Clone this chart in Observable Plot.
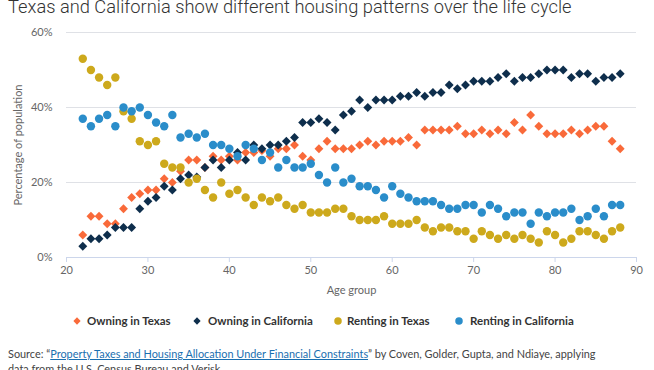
<!DOCTYPE html>
<html>
<head>
<meta charset="utf-8">
<script src="https://cdn.jsdelivr.net/npm/d3@7"></script>
<script src="https://cdn.jsdelivr.net/npm/@observablehq/plot@0.6"></script>
<style>
  html, body { margin: 0; padding: 0; background: #fff; }
  #wrap { position: relative; width: 654px; height: 370px; overflow: hidden; font-family: Lato, sans-serif; }
  #title { position: absolute; left: 8px; top: -3px; font-family: Roboto, sans-serif; font-weight: 300; font-size: 18.3px; line-height: 19px; color: #333; white-space: nowrap; }
  #chart { position: absolute; left: 0; top: 0; }
  .leg { position: absolute; top: 313px; height: 16px; line-height: 16px; font-size: 11.5px; font-weight: bold; color: #333; white-space: nowrap; }
  .sym { position: absolute; top: 313px; }
  #caption { position: absolute; left: 8px; top: 346px; font-size: 10.9px; line-height: 15px; color: #444; white-space: nowrap; }
  #caption a { color: #1a6fb0; text-decoration: underline; }
</style>
</head>
<body>
<div id="wrap">
  <div id="chart"></div>
  <div id="title">Texas and California show different housing patterns over the life cycle</div>
  <div id="legend"></div>
  <div id="caption">Source: “<a href="#">Property Taxes and Housing Allocation Under Financial Constraints</a>” by Coven, Golder, Gupta, and Ndiaye, applying<br>data from the U.S. Census Bureau and Verisk.</div>
</div>
<script>
const ages = [22,23,24,25,26,27,28,29,30,31,32,33,34,35,36,37,38,39,40,41,42,43,44,45,46,47,48,49,50,51,52,53,54,55,56,57,58,59,60,61,62,63,64,65,66,67,68,69,70,71,72,73,74,75,76,77,78,79,80,81,82,83,84,85,86,87,88];

const owningTexas = [6,11,11,9,9,13,16,17,18,18,21,20,23,26,26,24,27,26,27,26,28,28,28.5,27,29,29,30,27,26,29,31,29,29,29,30,31,30,31,31,31,32,30,34,34,34,34,35,33,33,34,33,34,33,36,34,38,35,33,33,33,34,33,34,35,35,31,29];

const owningCalifornia = [3,5,5,6,8,8,8,13,15,16,19,18,21,22,21.5,24,26,24,26,28,26,30,29,30,30,31,32,36,36,37,36,34,38,39,42,40,42,42,42,43,43,44,43,44,44,46,45,46,47,47,47,48,49,47,48,48,49,50,50,50,48,49,49,47,48,48,49];

const rentingTexas = [53,50,48,46,48,39,37,31,30,31,25,24,24,20,21,18,16,20,17,18,16,14,16,15,16,14,13,14,12,12,12,13,13,11,10,10,10,11,9,9,9,10,8,7,8,8,7,7,5,7,6,5,6,5,6,5,4,7,6,4,5,7,7,6,5,7,8];

const rentingCalifornia = [37,35,37,38,35,40,39,40,38,36,35,38,32,33,32,33,30,30,29,27,30,29,26,28,24,26,24,24,25,22,20,24,20,21,19,19,18,16,19,17,16,15,15,15,14,13,13,14,14,12,14,13,11,12,12,9,12,11,12,12,13,10,11,13,11,14,14];

const seriesNames = ["Owning in Texas", "Owning in California", "Renting in Texas", "Renting in California"];
const seriesColors = ["#f96a3a", "#0e2e4c", "#cda91c", "#2a8dca"];
const seriesSymbols = ["diamond2", "diamond2", "circle", "circle"];
const seriesValues = [owningTexas, owningCalifornia, rentingTexas, rentingCalifornia];

const xTicks = [20,30,40,50,60,70,80,90];
const yTicks = [0,20,40,60];

const data = seriesNames.map((name, s) => ages.map((age, i) => ({age, value: seriesValues[s][i], series: name})));

const chart = Plot.plot({
  width: 654,
  height: 300,
  marginLeft: 66,
  marginRight: 18,
  marginTop: 32,
  marginBottom: 43,
  style: { fontFamily: "Lato, sans-serif", fontSize: "11px", background: "transparent", overflow: "visible" },
  x: { domain: [20, 90] },
  y: { domain: [0, 60] },
  marks: [
    Plot.gridY(yTicks.filter(d => d > 0), { stroke: "#dfe1e6", strokeOpacity: 1 }),
    Plot.ruleY([0], { stroke: "#ccd6eb" }),
    Plot.axisX({ ticks: xTicks, tickSize: 5, tickPadding: 4, stroke: "#ccd6eb", fill: "#666", label: "Age group", labelAnchor: "center", labelArrow: "none", labelOffset: 36 }),
    Plot.axisY({ ticks: yTicks, tickSize: 0, tickPadding: 14, fill: "#666", tickFormat: d => d + "%", label: "Percentage of population", labelAnchor: "center", labelArrow: "none", labelOffset: 52 }),
    ...data.map((d, s) => Plot.dot(d, { x: "age", y: "value", symbol: seriesSymbols[s], fill: seriesColors[s], r: seriesSymbols[s] === "circle" ? 4.2 : 4 }))
  ]
});
document.getElementById("chart").appendChild(chart);

// legend
const legendSymX = [77, 197, 338, 459];
const legendTextX = [87, 208, 347, 470];
const legend = document.getElementById("legend");
seriesNames.forEach((name, s) => {
  const sym = document.createElementNS("http://www.w3.org/2000/svg", "svg");
  sym.setAttribute("width", 16); sym.setAttribute("height", 16);
  sym.setAttribute("class", "sym");
  sym.style.left = (legendSymX[s] - 8) + "px";
  const p = document.createElementNS("http://www.w3.org/2000/svg", "path");
  const sy = seriesSymbols[s] === "circle" ? d3.symbolCircle : d3.symbolDiamond2;
  p.setAttribute("d", d3.symbol(sy, seriesSymbols[s] === "circle" ? 44 : 34)());
  p.setAttribute("transform", "translate(8,8)");
  p.setAttribute("fill", seriesColors[s]);
  sym.appendChild(p);
  legend.appendChild(sym);
  const t = document.createElement("div");
  t.className = "leg";
  t.style.left = legendTextX[s] + "px";
  t.textContent = name;
  legend.appendChild(t);
});
</script>
</body>
</html>
